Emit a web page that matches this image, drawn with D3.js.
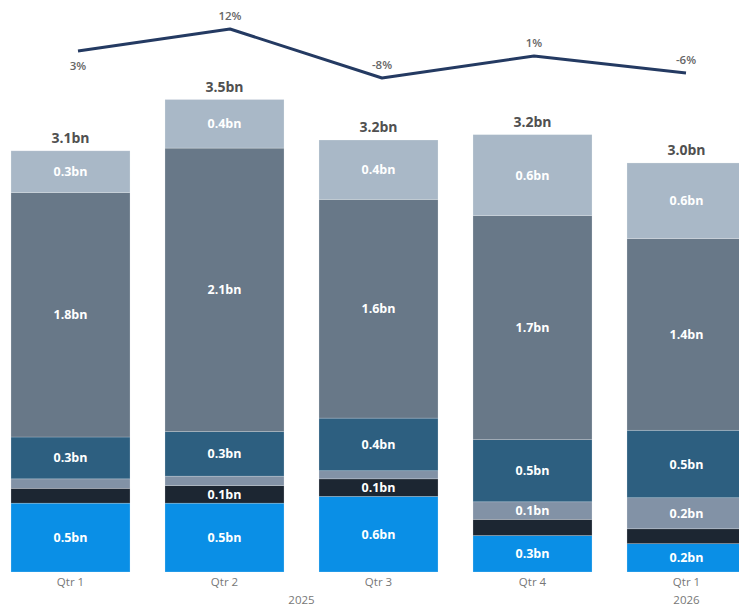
<!DOCTYPE html>
<html>
<head>
<meta charset="utf-8">
<script src="https://cdn.jsdelivr.net/npm/d3@7"></script>
<style>
  html, body { margin: 0; padding: 0; background: #ffffff; }
  svg { display: block; }
</style>
</head>
<body>
<svg id="chart" width="739" height="608"></svg>
<script>
// Quarters and the year each one belongs to
const quarters = ["Qtr 1", "Qtr 2", "Qtr 3", "Qtr 4", "Qtr 1 "];
const years = ["2025", "2025", "2025", "2025", "2026"];

// Stacked segments, bottom to top (billions)
const segBase   = [0.51, 0.51, 0.56, 0.27, 0.21];
const segDark   = [0.11, 0.13, 0.13, 0.12, 0.11];
const segGrey   = [0.07, 0.07, 0.06, 0.13, 0.23];
const segTeal   = [0.31, 0.33, 0.39, 0.46, 0.50];
const segSlate  = [1.81, 2.10, 1.62, 1.66, 1.42];
const segLight  = [0.31, 0.36, 0.44, 0.60, 0.56];

// Quarter-on-quarter change (%)
const changePct = [3, 12, -8, 1, -6];

const seriesKeys = ["base", "dark", "grey", "teal", "slate", "light"];
const seriesValues = [segBase, segDark, segGrey, segTeal, segSlate, segLight];
const seriesColors = ["#0a8fe6", "#1c2632", "#8292a6", "#2d5f80", "#687888", "#a9b8c7"];

const rows = quarters.map((q, i) => {
  const r = { q };
  seriesKeys.forEach((k, j) => { r[k] = seriesValues[j][i]; });
  r.total = d3.sum(seriesValues, s => s[i]);
  return r;
});

const svg = d3.select("#chart");
const fontFam = "'Open Sans', 'Noto Sans', sans-serif";

const x = d3.scaleBand()
  .domain(quarters)
  .range([-6.5, 763.5])
  .paddingInner(0.227)
  .paddingOuter(0.1135);

const y = d3.scaleLinear().domain([0, 1]).range([572, 437]);

const stacked = d3.stack().keys(seriesKeys)(rows);

const fmt = v => v.toFixed(1) + "bn";

// Bars
const layers = svg.append("g").selectAll("g.layer")
  .data(stacked)
  .join("g")
  .attr("class", "layer")
  .attr("fill", (d, i) => seriesColors[i]);

layers.selectAll("rect")
  .data(d => d)
  .join("rect")
  .attr("x", d => x(d.data.q))
  .attr("width", x.bandwidth())
  .attr("y", d => y(d[1]))
  .attr("height", d => y(d[0]) - y(d[1]))
  .attr("stroke", "rgba(255,255,255,0.35)")
  .attr("stroke-width", 0.6);

// Segment value labels (only where the segment is tall enough)
layers.selectAll("text")
  .data(d => d.filter(s => (s[1] - s[0]) >= 0.125))
  .join("text")
  .attr("x", d => x(d.data.q) + x.bandwidth() / 2)
  .attr("y", d => (y(d[0]) + y(d[1])) / 2)
  .attr("dy", "0.36em")
  .attr("text-anchor", "middle")
  .attr("fill", "#ffffff")
  .attr("font-family", fontFam)
  .attr("font-weight", 700)
  .attr("font-size", 12.5)
  .text(d => fmt(d[1] - d[0]));

// Totals above bars
svg.append("g").selectAll("text")
  .data(rows)
  .join("text")
  .attr("x", d => x(d.q) + x.bandwidth() / 2)
  .attr("y", d => y(d.total) - 8)
  .attr("text-anchor", "middle")
  .attr("fill", "#505050")
  .attr("font-family", fontFam)
  .attr("font-weight", 700)
  .attr("font-size", 14)
  .text(d => fmt(d.total));

// Category axis
const xAxis = d3.axisBottom(x).tickSize(0).tickPadding(6);
const axisG = svg.append("g").attr("transform", "translate(0,572)").call(xAxis);
axisG.select(".domain").remove();
axisG.selectAll("text")
  .attr("fill", "#777777")
  .attr("font-family", fontFam)
  .attr("font-size", 11.5)
  .text(d => d.trim());

// Year labels centred under their quarters
const yearGroups = d3.groups(quarters.map((q, i) => ({ q, yr: years[i] })), d => d.yr);
svg.append("g").selectAll("text")
  .data(yearGroups)
  .join("text")
  .attr("x", ([, items]) => {
    const first = x(items[0].q), last = x(items[items.length - 1].q) + x.bandwidth();
    return (first + last) / 2;
  })
  .attr("y", 604)
  .attr("text-anchor", "middle")
  .attr("fill", "#777777")
  .attr("font-family", fontFam)
  .attr("font-size", 11.5)
  .text(([yr]) => yr);

// Change line
const lx = d3.scalePoint().domain(quarters).range([78, 686]);
const ly = d3.scaleLinear().domain([-8, 12]).range([78, 29]);

svg.append("path")
  .datum(changePct)
  .attr("fill", "none")
  .attr("stroke", "#243a62")
  .attr("stroke-width", 3)
  .attr("stroke-linejoin", "round")
  .attr("d", d3.line().x((d, i) => lx(quarters[i])).y(d => ly(d)));

svg.append("g").selectAll("text")
  .data(changePct)
  .join("text")
  .attr("x", (d, i) => lx(quarters[i]))
  .attr("y", (d, i) => i === 0 ? ly(d) + 19 : ly(d) - 9)
  .attr("text-anchor", "middle")
  .attr("fill", "#666666")
  .attr("font-family", fontFam)
  .attr("font-weight", 600)
  .attr("font-size", 11.5)
  .text(d => d + "%");
</script>
</body>
</html>
